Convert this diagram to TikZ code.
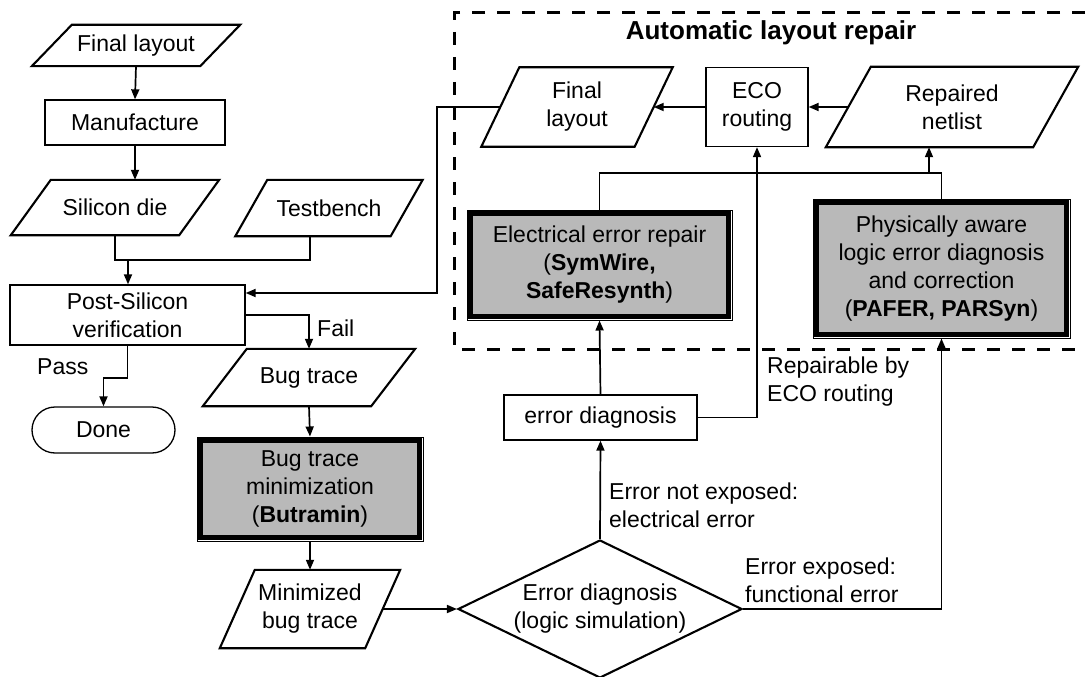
\documentclass[tikz,border=0pt]{standalone}
\usepackage{fontspec}
\setmainfont{Liberation Sans}
\usetikzlibrary{shapes.geometric,arrows.meta,calc}
\pgfdeclarelayer{bg}
\pgfsetlayers{bg,main}
\tikzset{
 txt/.style={font=\fontsize{23}{28}\selectfont, align=center},
 ptext/.style={txt, inner sep=0pt},
 pline/.style={line width=2.1pt, line join=miter},
 rbox/.style={txt, draw, line width=1.3pt, inner sep=0pt},
 gbox/.style={txt, draw, line width=1pt, inner sep=0pt},
 thickframe/.style={line width=4.5pt, fill=gray!55},
 conn/.style={line width=1.7pt},
 arr/.style={conn, -{Triangle[length=10pt,width=8pt]}},
 lbl/.style={font=\fontsize{23}{28}\selectfont, align=left, anchor=west, inner sep=0pt},
 dashline/.style={line width=3pt, dash pattern=on 13pt off 12pt},
}
\newcommand\plgram[7]{%
 \node[ptext, minimum width=#4pt, minimum height=#5pt] (#1) at (#2,#3) {#7};
 \draw[pline] ([xshift=-#6pt]#1.south west) -- ([xshift=-#6pt]#1.south east) -- ([xshift=#6pt]#1.north east) -- ([xshift=#6pt]#1.north west) -- cycle;}
\newcommand\gframe[1]{\begin{pgfonlayer}{bg}\draw[thickframe] ([shift={(4.2,4.2)}]#1.north west) rectangle ([shift={(-4.2,-4.2)}]#1.south east);\end{pgfonlayer}}
\begin{document}
\begin{tikzpicture}[x=1pt,y=-1pt]
\useasboundingbox (0,0) rectangle (1085,677);
% dashed frame
\draw[dashline] (1085,13) -- (454,13) -- (454,349) -- (1085,349);
\node[font=\bfseries\fontsize{26}{30}\selectfont] (title) at (771,33) {Automatic layout repair};
% left column
\plgram{fl1}{136}{45.5}{168}{41}{20}{Final layout}
\node[rbox, minimum width=180pt, minimum height=45pt] (man) at (135,122.5) {Manufacture};
\plgram{sd}{115}{207.5}{168}{55}{20}{Silicon die}
\plgram{tb}{329}{208}{155}{56}{16}{Testbench}
\node[rbox, minimum width=235pt, minimum height=60pt] (ps) at (127.5,315) {Post-Silicon\\verification};
\node[rbox, rounded corners=23pt, minimum width=143pt, minimum height=46pt] (done) at (103.5,430) {Done};
\plgram{bt}{309}{377.5}{168}{57}{22}{Bug trace}
\node[gbox, minimum width=226pt, minimum height=104pt] (bm) at (310,489) {Bug trace\\minimization\\(\textbf{Butramin})};
\gframe{bm}
\plgram{mb}{310}{609}{145}{78}{17.5}{Minimized\\bug trace}
\node[diamond, draw, line width=2.1pt, txt, inner sep=0pt, aspect=2.06, minimum width=284pt, minimum height=138pt] (dia) at (600,609) {Error diagnosis\\(logic simulation)};
\node[rbox, minimum width=193pt, minimum height=45pt] (ed) at (600.5,417.5) {error diagnosis};
% repair region
\node[gbox, minimum width=265pt, minimum height=110pt] (ee) at (599.5,265) {Electrical error repair\\(\textbf{SymWire,}\\\textbf{SafeResynth})};
\gframe{ee}
\node[gbox, minimum width=257pt, minimum height=139pt] (pa) at (941.5,268.5) {Physically aware\\logic error diagnosis\\and correction\\(\textbf{PAFER, PARSyn})};
\gframe{pa}
\plgram{fl2}{577}{107}{153}{79}{19}{Final\\layout}
\node[rbox, minimum width=102pt, minimum height=79pt] (eco) at (757,107) {ECO\\routing};
\plgram{rn}{952}{107}{207}{80}{22.5}{Repaired\\netlist}
% labels
\node[lbl] (lfail) at (317,328) {Fail};
\node[lbl] (lpass) at (37,367) {Pass};
\node[lbl] (lrep) at (767,381.5) {Repairable by\\ECO routing};
\node[lbl] (lnot) at (609,505) {Error not exposed:\\electrical error};
\node[lbl] (lexp) at (745,580) {Error exposed:\\functional error};
% coordinates
\coordinate (mj) at (128,260);
\coordinate (fbA) at (437,107);
\coordinate (fbB) at (437,293);
\coordinate (jn) at (929,173);
% connectors
\draw[arr] (fl1.south) -- (man.north);
\draw[arr] (man.south) -- (man.south |- sd.north);
\draw[conn] (sd.south) |- (mj) -| ([xshift=-19pt]tb.south);
\draw[arr] (mj) -- (mj |- ps.north);
\draw[arr] (fl2.west) -- (fbA) -- (fbB) -- (fbB -| ps.east);
\draw[arr] (ps.east) -| (bt.north);
\draw[arr] (ps.south) -- ++(0,32) -| (done.north);
\draw[arr] (bt.south) -- (bm.north);
\draw[arr] (bm.south) -- (mb.north);
\draw[arr] (mb.east) -- (dia.west);
\draw[arr] (dia.north) -- (ed.south);
\draw[arr] (ed.north) -- (ee.south);
\draw[arr] (ed.east) -| (eco.south);
\draw[arr] (dia.east) -| (pa.south);
\draw[line width=1.2pt] (ee.north) |- (jn) -| (pa.north);
\draw[arr] (jn) -- (jn |- rn.south);
\draw[arr] (rn.west) -- (eco.east);
\draw[arr] (eco.west) -- (fl2.east);
\end{tikzpicture}
\end{document}
